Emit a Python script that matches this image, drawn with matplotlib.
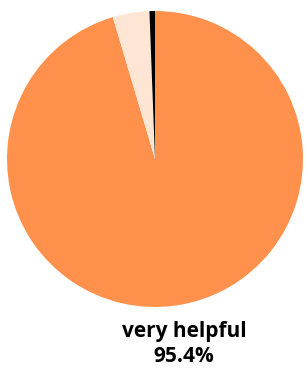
import matplotlib
matplotlib.use('Agg')
import matplotlib.pyplot as plt

# slice shares, clockwise from 12 o'clock
labels = ['very helpful', 'somewhat helpful', 'not helpful']
values = [95.4, 4.0, 0.6]
colours = ['#FF914D', '#FFE5D4', '#000000']

fig = plt.figure(figsize=(3.06, 3.71), dpi=100, facecolor='w')
ax = fig.add_axes([7 / 306, 64 / 371, 296 / 306, 296 / 371])
ax.pie(values, colors=colours, startangle=90, counterclock=False,
       wedgeprops={'linewidth': 0})
ax.set_xlim(-1, 1)
ax.set_ylim(-1, 1)
ax.axis('off')

fig.text(184 / 306, 1 - 331 / 371, labels[0], ha='center', va='center',
         fontsize=15, fontweight='bold', family='Open Sans')
fig.text(184 / 306, 1 - 356 / 371, '%.1f%%' % values[0], ha='center', va='center',
         fontsize=15, fontweight='bold', family='Open Sans')

fig.savefig('out.png', dpi=100)
